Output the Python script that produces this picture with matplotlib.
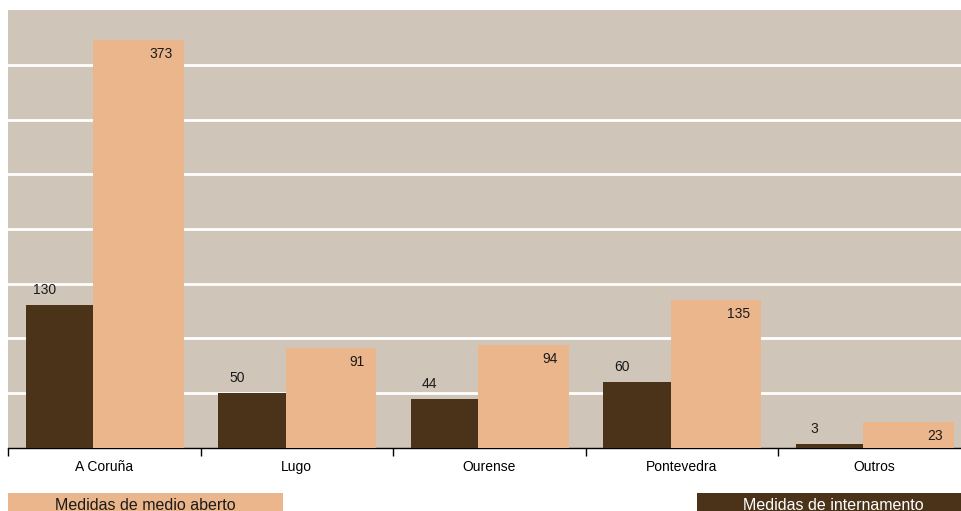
import numpy as np
import matplotlib.pyplot as plt
from matplotlib.patches import Rectangle

plt.rcParams['font.family'] = ['Liberation Sans', 'DejaVu Sans']

provincias = ["A Coruña", "Lugo", "Ourense", "Pontevedra", "Outros"]
internamento = [130, 50, 44, 60, 3]        # Medidas de internamento
medio_aberto = [373, 91, 94, 135, 23]      # Medidas de medio aberto

c_bg = "#D0C5B9"
c_dark = "#4A3319"
c_light = "#EBB68B"

W, H = 961, 511
fig = plt.figure(figsize=(W/100, H/100), dpi=100)
ax = fig.add_axes([8/W, (H-447.5)/H, 962.5/W, 437.2/H])
ax.set_facecolor(c_bg)

x = np.arange(len(provincias))
w_dark = 0.353
w_light = 0.468
left_dark = x - 0.409
left_light = left_dark + w_dark

ax.bar(left_dark, internamento, width=w_dark, align='edge', color=c_dark, zorder=3)
ax.bar(left_light, medio_aberto, width=w_light, align='edge', color=c_light, zorder=3)

for xl, v in zip(left_dark, internamento):
    ax.annotate(str(v), (xl + 0.1, v), xytext=(0, 8), textcoords='offset pixels',
                ha='center', va='bottom', fontsize=10, color='#1a1a1a', zorder=4)
for xl, v in zip(left_light, medio_aberto):
    ax.annotate(str(v), (xl + w_light, v), xytext=(-11, -7), textcoords='offset pixels',
                ha='right', va='top', fontsize=10, color='#1a1a1a', zorder=4)

ax.set_xlim(-0.5, len(provincias) - 0.5)
ax.set_ylim(0, 400)
ax.set_yticks(np.arange(50, 400, 50))
ax.yaxis.grid(True, color='white', linewidth=2, zorder=1)
ax.tick_params(axis='y', left=False, labelleft=False)

ax.set_xticks(np.arange(-0.5, len(provincias), 1.0), minor=False)
ax.set_xticklabels([])
ax.set_xticks(x, minor=True)
ax.set_xticklabels(provincias, minor=True, fontsize=10)
ax.tick_params(axis='x', which='major', length=6, width=1, color='black')
ax.tick_params(axis='x', which='minor', length=0, pad=9)

for s in ['top', 'right', 'left']:
    ax.spines[s].set_visible(False)
ax.spines['bottom'].set_color('black')
ax.spines['bottom'].set_linewidth(1)

# legend boxes at the bottom
fig.patches.append(Rectangle((8/W, 0), 275/W, 18/H, transform=fig.transFigure,
                             facecolor=c_light, edgecolor='none'))
fig.text(145.5/W, 1.5/H, "Medidas de medio aberto", ha='center', va='baseline',
         fontsize=11.5, color='#1a1a1a')
fig.patches.append(Rectangle((697/W, 0), 264/W, 18/H, transform=fig.transFigure,
                             facecolor=c_dark, edgecolor='none'))
fig.text(833/W, 1.5/H, "Medidas de internamento", ha='center', va='baseline',
         fontsize=11.5, color='white')

fig.savefig('out.png', dpi=100)
